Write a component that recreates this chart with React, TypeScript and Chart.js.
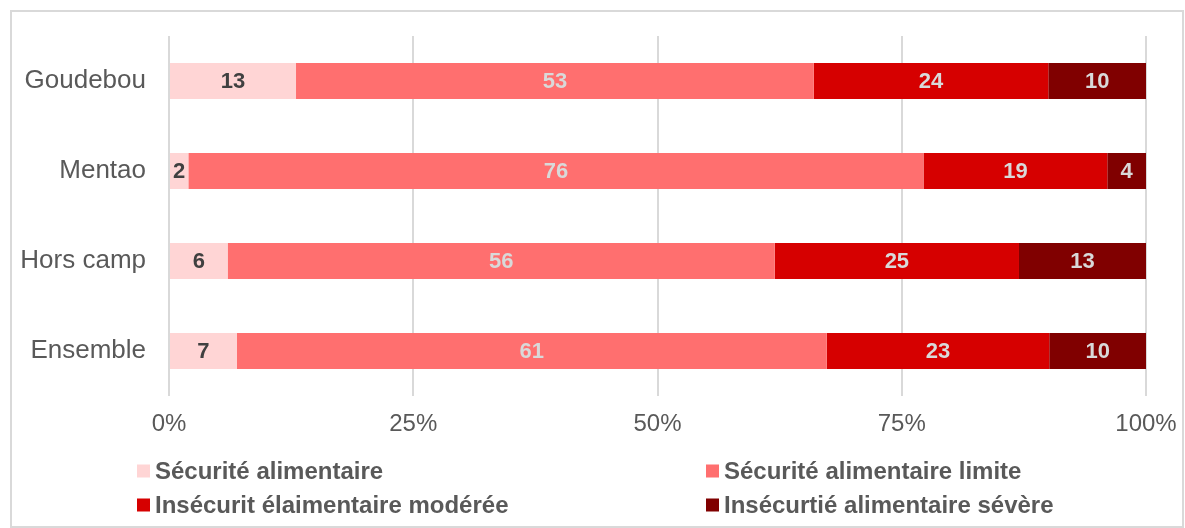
import React, { useEffect, useRef } from "react";
import { Chart, registerables } from "chart.js";

Chart.register(...registerables);

const categories = ["Goudebou", "Mentao", "Hors camp", "Ensemble"];
const seriesNames = [
  "Sécurité alimentaire",
  "Sécurité alimentaire limite",
  "Insécurit élaimentaire modérée",
  "Insécurtié alimentaire sévère",
];
const securite = [13, 2, 6, 7];
const limite = [53, 76, 56, 61];
const moderee = [24, 19, 25, 23];
const severe = [10, 4, 13, 10];
const xTicks = ["0%", "25%", "50%", "75%", "100%"];

const colors = ["#FFD5D5", "#FF6F6F", "#D60000", "#800000"];
const labelColors = ["#404040", "#D9D9D9", "#D9D9D9", "#D9D9D9"];
const FONT = "'Liberation Sans', Arial, sans-serif";

const raw = [securite, limite, moderee, severe];
const totals = categories.map((_, i) => raw.reduce((s, arr) => s + arr[i], 0));

const valueLabels = {
  id: "valueLabels",
  afterDatasetsDraw(chart: any) {
    const ctx = chart.ctx;
    ctx.save();
    ctx.font = `bold 22px ${FONT}`;
    ctx.textAlign = "center";
    ctx.textBaseline = "middle";
    chart.data.datasets.forEach((ds: any, di: number) => {
      const meta = chart.getDatasetMeta(di);
      meta.data.forEach((bar: any, i: number) => {
        const v = ds.rawValues[i];
        const cx = (bar.x + bar.base) / 2;
        ctx.fillStyle = labelColors[di];
        ctx.fillText(String(v), cx, bar.y + 1);
      });
    });
    ctx.restore();
  },
};

const frameAndLegend = {
  id: "frameAndLegend",
  afterDraw(chart: any) {
    const ctx = chart.ctx;
    ctx.save();
    ctx.strokeStyle = "#D9D9D9";
    ctx.lineWidth = 2;
    ctx.strokeRect(11, 11, 1172, 516);
    const pos = [
      [137, 471],
      [706, 471],
      [137, 505],
      [706, 505],
    ];
    ctx.font = `bold 24px ${FONT}`;
    ctx.textBaseline = "middle";
    ctx.textAlign = "left";
    chart.data.datasets.forEach((ds: any, di: number) => {
      const [x, y] = pos[di];
      ctx.fillStyle = ds.backgroundColor;
      ctx.fillRect(x, y - 6.5, 13, 13);
      ctx.fillStyle = "#595959";
      ctx.fillText(ds.label, x + 18, y + 1);
    });
    ctx.restore();
  },
};

export default function App() {
  const ref = useRef<HTMLCanvasElement>(null);
  useEffect(() => {
    if (!ref.current) return;
    const chart = new Chart(ref.current, {
      type: "bar",
      data: {
        labels: categories,
        datasets: raw.map((arr, di) => ({
          label: seriesNames[di],
          data: arr.map((v, i) => (v / totals[i]) * 100),
          rawValues: arr,
          backgroundColor: colors[di],
          borderWidth: 0,
          barPercentage: 0.4,
          categoryPercentage: 1,
        })) as any,
      },
      plugins: [valueLabels, frameAndLegend],
      options: {
        indexAxis: "y",
        animation: false,
        responsive: false,
        layout: { padding: { left: 0, top: 36, right: 39, bottom: 0 } },
        plugins: {
          legend: { display: false },
          tooltip: { enabled: false },
        },
        scales: {
          x: {
            stacked: true,
            min: 0,
            max: 100,
            afterBuildTicks(scale: any) {
              scale.ticks = xTicks.map((_, i) => ({ value: i * 25 }));
            },
            afterFit(scale: any) {
              scale.height = 132;
              scale.paddingLeft = 0;
              scale.paddingRight = 0;
            },
            ticks: {
              callback: (_v: any, i: number) => xTicks[i],
              color: "#595959",
              font: { family: FONT, size: 24 },
              padding: 14,
              maxRotation: 0,
            },
            grid: { color: "#D9D9D9", lineWidth: 2, drawTicks: false },
            border: { display: false },
          },
          y: {
            stacked: true,
            afterFit(scale: any) {
              scale.width = 169;
              scale.paddingTop = 0;
              scale.paddingBottom = 0;
            },
            ticks: {
              color: "#595959",
              font: { family: FONT, size: 26 },
              padding: 23,
            },
            grid: { display: false, drawTicks: false },
            border: { display: false },
          },
        },
      } as any,
    });
    return () => chart.destroy();
  }, []);
  return (
    <div style={{ position: "absolute", left: 0, top: 0, width: 1185, height: 528, background: "#fff" }}>
      <canvas ref={ref} width={1185} height={528} style={{ display: "block", width: 1185, height: 528 }} />
    </div>
  );
}
